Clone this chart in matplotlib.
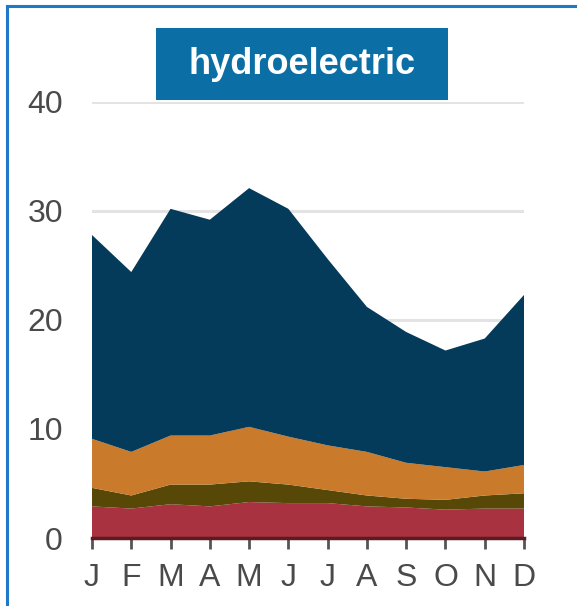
import numpy as np
import matplotlib
matplotlib.use('Agg')
from matplotlib import pyplot as plt
from matplotlib.patches import Rectangle
from matplotlib.lines import Line2D

# 月份和各层数值（堆叠，单位从图中读出）
months = ['J', 'F', 'M', 'A', 'M', 'J', 'J', 'A', 'S', 'O', 'N', 'D']
layer_red = [2.9, 2.7, 3.1, 2.9, 3.3, 3.2, 3.2, 2.9, 2.8, 2.6, 2.7, 2.7]
top_olive = [4.6, 3.9, 4.9, 4.9, 5.2, 4.9, 4.4, 3.9, 3.6, 3.5, 3.9, 4.1]
top_orange = [9.1, 7.9, 9.4, 9.4, 10.2, 9.3, 8.5, 7.9, 6.9, 6.5, 6.1, 6.7]
top_navy = [27.8, 24.4, 30.2, 29.2, 32.1, 30.2, 25.6, 21.2, 18.9, 17.2, 18.3, 22.3]
yticks = [0, 10, 20, 30, 40]
title = 'hydroelectric'

red = np.array(layer_red)
olive = np.array(top_olive) - red
orange = np.array(top_orange) - np.array(top_olive)
navy = np.array(top_navy) - np.array(top_orange)

colors = ['#a8323f', '#574808', '#c97a2b', '#043a5a']

W, H = 577, 606
fig = plt.figure(figsize=(W / 100, H / 100), dpi=100)
fig.patch.set_facecolor('white')

# 坐标轴位置（像素换算）
x0, x1 = 92, 524
y0, y1 = 538, 102
ax = fig.add_axes([x0 / W, (H - y0) / H, (x1 - x0) / W, (y0 - y1) / H])

x = np.arange(len(months))
ax.stackplot(x, red, olive, orange, navy, colors=colors, linewidth=0, zorder=2)

ax.set_xlim(0, 11)
ax.set_ylim(0, 40)
ax.set_yticks(yticks)
ax.grid(axis='y', color='#e3e3e3', linewidth=2.2, zorder=0)
ax.set_axisbelow(True)

for s in ['top', 'right', 'left']:
    ax.spines[s].set_visible(False)
ax.spines['bottom'].set_color('#5e1a22')
ax.spines['bottom'].set_linewidth(2.5)
ax.spines['bottom'].set_zorder(3)

ax.set_xticks(x)
ax.set_xticklabels(months)
ax.tick_params(axis='x', length=8, width=2, color='#555555', pad=10,
               labelsize=23, labelcolor='#4a4a4a')
ax.tick_params(axis='y', length=0, pad=21, labelsize=23, labelcolor='#4a4a4a')
for lab in ax.get_xticklabels() + ax.get_yticklabels():
    lab.set_family('Liberation Sans')

# 标题框
bx0, bx1, by0, by1 = 156, 448, 28, 100
fig.patches.append(Rectangle((bx0 / W, 1 - by1 / H), (bx1 - bx0) / W, (by1 - by0) / H,
                             transform=fig.transFigure, facecolor='#0b6fa5',
                             edgecolor='none', zorder=5))
fig.text((bx0 + bx1) / 2 / W, 1 - (by0 + by1) / 2 / H, title, color='white',
         fontsize=26, fontweight='bold', family='Liberation Sans',
         ha='center', va='center', zorder=6)

# 外框（蓝色）
fig.lines.append(Line2D([7 / W, 7 / W], [0, 1 - 6 / H], transform=fig.transFigure,
                        color='#1f78c8', linewidth=2.2))
fig.lines.append(Line2D([7 / W, 1], [1 - 6 / H, 1 - 6 / H], transform=fig.transFigure,
                        color='#1f78c8', linewidth=2.2))

fig.savefig('out.png', dpi=100)
